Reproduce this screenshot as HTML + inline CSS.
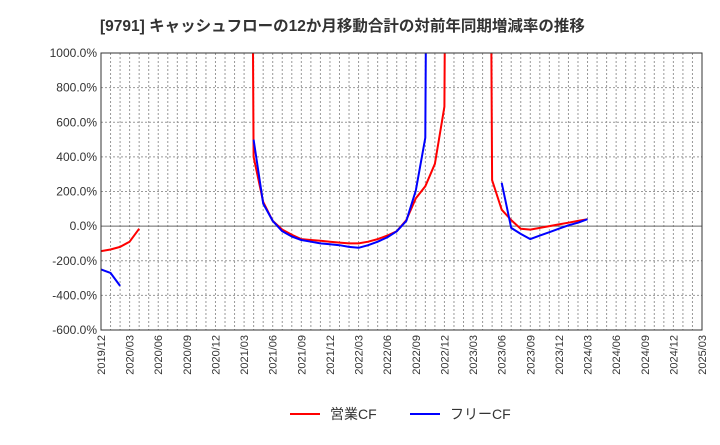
<!DOCTYPE html>
<html><head><meta charset="utf-8"><style>
body{margin:0;background:#fff;font-family:"Liberation Sans","Noto Sans CJK JP",sans-serif;}
</style></head><body>
<svg width="720" height="440" xmlns="http://www.w3.org/2000/svg" id="c" style="font-family:'Liberation Sans','Noto Sans CJK JP',sans-serif">
<text x="100" y="31" font-size="15.5" font-weight="bold" fill="#333">[9791]  キャッシュフローの12か月移動合計の対前年同期増減率の推移</text>
<defs><clipPath id="pc"><rect x="101" y="53" width="601" height="277"/></clipPath></defs>
<g id="grid"></g><g id="series" clip-path="url(#pc)"></g><g id="axes"></g>
<g>
<line x1="290" y1="414" x2="320" y2="414" stroke="#f00" stroke-width="2"/>
<text x="330" y="419" font-size="14" fill="#333">営業CF</text>
<line x1="410" y1="414" x2="440" y2="414" stroke="#00f" stroke-width="2"/>
<text x="450" y="419" font-size="14" fill="#333">フリーCF</text>
</g>
</svg>
<script>
const yTicks=[1000,800,600,400,200,0,-200,-400,-600];
const xLabels=["2019/12","2020/03","2020/06","2020/09","2020/12","2021/03","2021/06","2021/09","2021/12","2022/03","2022/06","2022/09","2022/12","2023/03","2023/06","2023/09","2023/12","2024/03","2024/06","2024/09","2024/12","2025/03"];
const redIdx=[0,1,2,3,4,null,15,16,17,18,19,20,21,22,23,24,25,26,27,28,29,30,31,32,33,34,35,36,37,null,40,41,42,43,44,45,46,47,48,49,50,51];
const redVal=[-145,-135,-120,-90,-15,null,10000,400,140,30,-20,-50,-75,-80,-85,-90,-95,-100,-100,-90,-75,-55,-30,35,160,230,360,690,10000,null,10000,265,95,35,-15,-20,-10,0,10,20,30,40];
const blueIdx=[0,1,2,null,16,17,18,19,20,21,22,23,24,25,26,27,28,29,30,31,32,33,34,35,null,42,43,44,45,46,47,48,49,50,51];
const blueVal=[-250,-270,-345,null,500,130,30,-30,-60,-80,-90,-100,-105,-110,-120,-125,-110,-90,-65,-30,30,205,510,10000,null,250,-10,-45,-75,-55,-35,-15,5,20,40];
const L=101,R=702,T=53,B=330;
const X=i=>L+i*(R-L)/63, Y=v=>B-(v+600)/1600*(B-T);
const ns="http://www.w3.org/2000/svg";
function mk(p,t,a){const e=document.createElementNS(ns,t);for(const k in a)e.setAttribute(k,a[k]);p.appendChild(e);return e;}
const g=document.getElementById('grid'),ax=document.getElementById('axes'),s=document.getElementById('series');
for(let i=1;i<63;i++){const l=mk(g,'line',{x1:X(i),x2:X(i),y1:T,y2:B,stroke:'#999','stroke-dasharray':'2,2','stroke-width':1});

}
yTicks.forEach(v=>{const l=mk(g,'line',{x1:L,x2:R,y1:Y(v),y2:Y(v),stroke:v==0?'#666':'#999','stroke-dasharray':v==0?'':'2,2'});


const t=mk(ax,'text',{x:L-4,y:Y(v)+4,'text-anchor':'end','font-size':12,fill:'#333'});t.textContent=v.toFixed(1)+'%';

});
xLabels.forEach((lab,k)=>{const x=X(k*3);const t=mk(ax,'text',{x:0,y:0,transform:`translate(${x+4},${B+5}) rotate(-90)`,'text-anchor':'end','font-size':11,fill:'#333'});t.textContent=lab;

});
const fr=mk(ax,'rect',{x:L,y:T,width:R-L,height:B-T,fill:'none',stroke:'#333'});


function draw(idx,val,col,name){let d='',pen=false;idx.forEach((i,k)=>{if(i===null){pen=false;return;}d+=(pen?'L':'M')+X(i).toFixed(1)+','+Y(val[k]).toFixed(1);pen=true;});
const p=mk(s,'path',{d:d,fill:'none',stroke:col,'stroke-width':2,'stroke-linejoin':'round'});

}
draw(redIdx,redVal,'#f00','operating-cf-line');
draw(blueIdx,blueVal,'#00f','free-cf-line');
</script>
</body></html>
